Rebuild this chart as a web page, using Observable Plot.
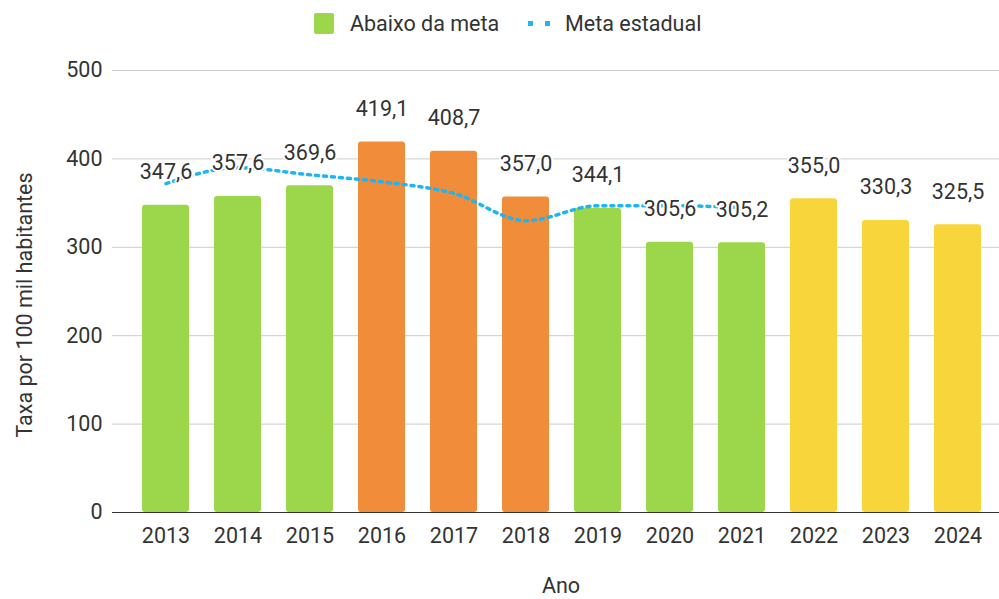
<!DOCTYPE html>
<html>
<head>
<meta charset="utf-8">
<script src="https://cdn.jsdelivr.net/npm/d3@7"></script>
<script src="https://cdn.jsdelivr.net/npm/@observablehq/plot@0.6"></script>
<style>
  html, body { margin: 0; padding: 0; background: #fff; }
  #wrap { position: relative; width: 999px; height: 599px; font-family: Roboto, sans-serif; color: #333; }
  #chart { position: absolute; left: 0; top: 0; }
  .lg { position: absolute; font-size: 21.5px; line-height: 22px; white-space: nowrap; }
  .sw { position: absolute; }
  .ytitle { position: absolute; left: 25px; top: 305px; font-size: 21.5px; line-height: 22px; white-space: nowrap;
            transform: translate(-50%, -50%) rotate(-90deg); }
</style>
</head>
<body>
<div id="wrap">
  <div id="chart"></div>
  <div class="sw" style="left:314px;top:13px;width:20px;height:21px;background:#9BD64B;border-radius:2px;"></div>
  <div class="lg" id="lg1" style="left:350px;top:13px;"></div>
  <div class="sw" style="left:528px;top:21px;width:5px;height:5px;background:#1FB5F0;"></div>
  <div class="sw" style="left:545px;top:21px;width:5px;height:5px;background:#1FB5F0;"></div>
  <div class="lg" id="lg2" style="left:565px;top:13px;"></div>
  <div class="ytitle" id="ytitle"></div>
</div>
<script>
const years = ["2013","2014","2015","2016","2017","2018","2019","2020","2021","2022","2023","2024"];
const values = [347.6, 357.6, 369.6, 419.1, 408.7, 357.0, 344.1, 305.6, 305.2, 355.0, 330.3, 325.5];
const groups = ["abaixo","abaixo","abaixo","acima","acima","acima","abaixo","abaixo","abaixo","sem","sem","sem"];
const metaYears = ["2013","2014","2015","2016","2017","2018","2019","2020","2021"];
const metaValues = [372, 390, 382, 374, 361, 330, 347, 347, 345];
const yTicks = [0, 100, 200, 300, 400, 500];
const legendLabels = ["Abaixo da meta", "Meta estadual"];
const xTitle = "Ano";
const yTitle = "Taxa por 100 mil habitantes";

document.getElementById("lg1").textContent = legendLabels[0];
document.getElementById("lg2").textContent = legendLabels[1];
document.getElementById("ytitle").textContent = yTitle;

const data = years.map((y, i) => ({ano: y, taxa: values[i], grupo: groups[i]}));
const meta = metaYears.map((y, i) => ({ano: y, meta: metaValues[i]}));
const fmt = v => v.toFixed(1).replace(".", ",");
const FS = 21.5;

const chart = Plot.plot({
  width: 999,
  height: 599,
  marginTop: 70,
  marginBottom: 87,
  marginLeft: 112,
  marginRight: 0,
  style: {fontFamily: "Roboto, sans-serif", fontSize: FS + "px", color: "#333", background: "transparent"},
  x: {domain: years, range: [138.3, 985.3], paddingInner: 0.35, paddingOuter: 0, label: null},
  y: {domain: [0, 500], label: null},
  color: {domain: ["abaixo", "acima", "sem"], range: ["#9BD64B", "#F08C3A", "#F9D53C"]},
  marks: [
    Plot.gridY(yTicks.filter(t => t > 0), {stroke: "#cccccc", strokeOpacity: 1, strokeWidth: 1}),
    Plot.barY(data, {x: "ano", y: "taxa", fill: "grupo", rx: 3}),
    Plot.ruleY([0], {stroke: "#333", strokeWidth: 1.2}),
    Plot.line(meta, {x: "ano", y: "meta", stroke: "#1FB5F0", strokeWidth: 3.5, strokeDasharray: "3 5", curve: "monotone-x"}),
    Plot.text(data, {x: "ano", y: "taxa", text: d => fmt(d.taxa), dy: -33, fill: "#333", stroke: "white", strokeWidth: 4, fontSize: FS}),
    Plot.axisX({tickSize: 0, tickPadding: 15, fontSize: FS, label: null}),
    Plot.axisY(yTicks, {tickSize: 0, tickPadding: 10, fontSize: FS, label: null}),
    Plot.text([xTitle], {frameAnchor: "bottom", dy: 80, dx: 5, fontSize: FS, fill: "#333"})
  ]
});
document.getElementById("chart").appendChild(chart);
</script>
</body>
</html>
